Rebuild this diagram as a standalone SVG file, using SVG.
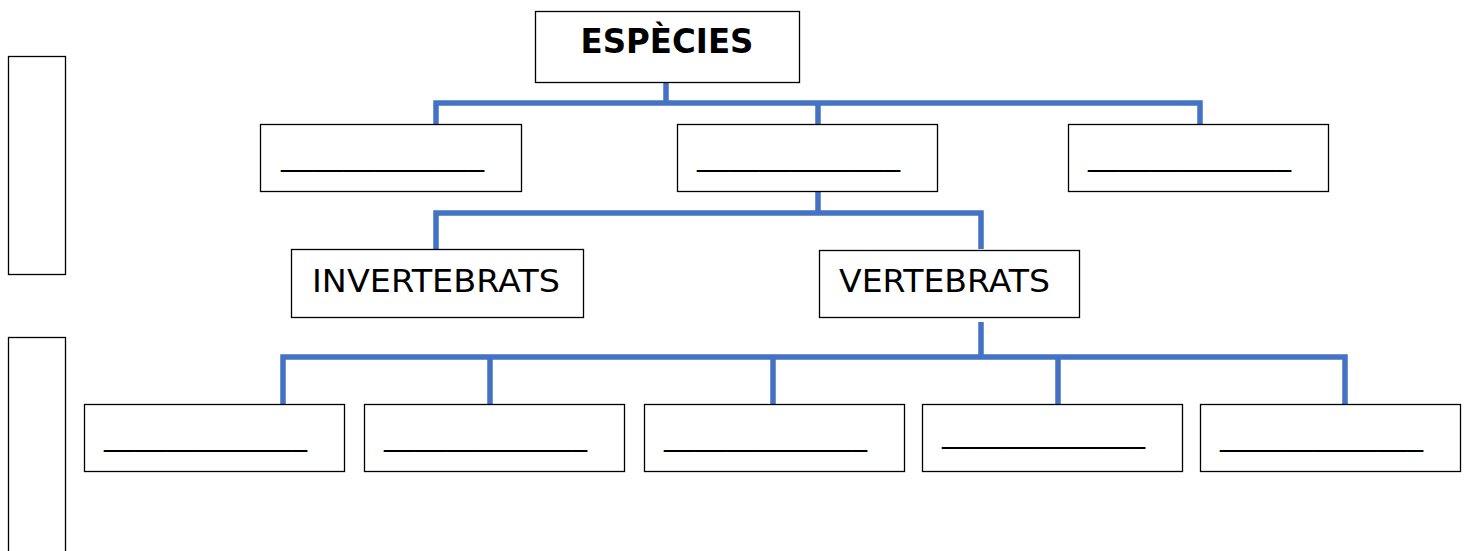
<svg xmlns="http://www.w3.org/2000/svg" width="1470" height="551" viewBox="0 0 1470 551">
<style>
.box{fill:#fff;stroke:#000;stroke-width:1.3}
.con{fill:none;stroke:#4472C4;stroke-width:5.5;stroke-linejoin:miter}
.t{font-family:"DejaVu Sans",Verdana,sans-serif;font-size:32px;fill:#000}
.tb{font-family:"DejaVu Sans",Verdana,sans-serif;font-size:33px;font-weight:bold;fill:#000}
.blank{font-family:"DejaVu Sans",Verdana,sans-serif;font-size:30px;fill:#000}
</style>
<rect width="1470" height="551" fill="#fff"/>
<g id="connectors">
<path class="con" d="M666 82V103M436 124V103H1200V124M818 103V124"/>
<path class="con" d="M818 191V213M436 249V213H981V249"/>
<path class="con" d="M981 322V357M283 404V357H1345V404M490 357V404M773 357V404M1058 357V404"/>
</g>
<g id="side1"><rect class="box" x="8.5" y="56.5" width="57" height="218"/></g>
<g id="side2"><rect class="box" x="8.5" y="337.5" width="57" height="230"/></g>
<g id="especies"><rect class="box" x="535.5" y="11.5" width="264" height="71"/><text class="tb" x="667" y="53" text-anchor="middle" textLength="173" lengthAdjust="spacingAndGlyphs">ESPÈCIES</text></g>
<g id="n2a"><rect class="box" x="260.5" y="124.5" width="261" height="67"/><text class="blank" x="281" y="165" textLength="203" lengthAdjust="spacingAndGlyphs">_____________</text></g>
<g id="n2b"><rect class="box" x="677.5" y="124.5" width="260" height="67"/><text class="blank" x="697" y="165" textLength="203" lengthAdjust="spacingAndGlyphs">_____________</text></g>
<g id="n2c"><rect class="box" x="1068.5" y="124.5" width="260" height="67"/><text class="blank" x="1088" y="165" textLength="203" lengthAdjust="spacingAndGlyphs">_____________</text></g>
<g id="invertebrats"><rect class="box" x="291.5" y="249.5" width="292" height="68"/><text class="t" x="312" y="292" textLength="248" lengthAdjust="spacingAndGlyphs">INVERTEBRATS</text></g>
<g id="vertebrats"><rect class="box" x="819.5" y="250.5" width="260" height="67"/><text class="t" x="839" y="292" textLength="211" lengthAdjust="spacingAndGlyphs">VERTEBRATS</text></g>
<g id="n4a"><rect class="box" x="84.5" y="404.5" width="260" height="67"/><text class="blank" x="104" y="445" textLength="203" lengthAdjust="spacingAndGlyphs">_____________</text></g>
<g id="n4b"><rect class="box" x="364.5" y="404.5" width="260" height="67"/><text class="blank" x="384" y="445" textLength="203" lengthAdjust="spacingAndGlyphs">_____________</text></g>
<g id="n4c"><rect class="box" x="644.5" y="404.5" width="260" height="67"/><text class="blank" x="664" y="445" textLength="203" lengthAdjust="spacingAndGlyphs">_____________</text></g>
<g id="n4d"><rect class="box" x="922.5" y="404.5" width="260" height="67"/><text class="blank" x="942" y="442" textLength="203" lengthAdjust="spacingAndGlyphs">_____________</text></g>
<g id="n4e"><rect class="box" x="1200.5" y="404.5" width="260" height="67"/><text class="blank" x="1220" y="445" textLength="203" lengthAdjust="spacingAndGlyphs">_____________</text></g>
</svg>
